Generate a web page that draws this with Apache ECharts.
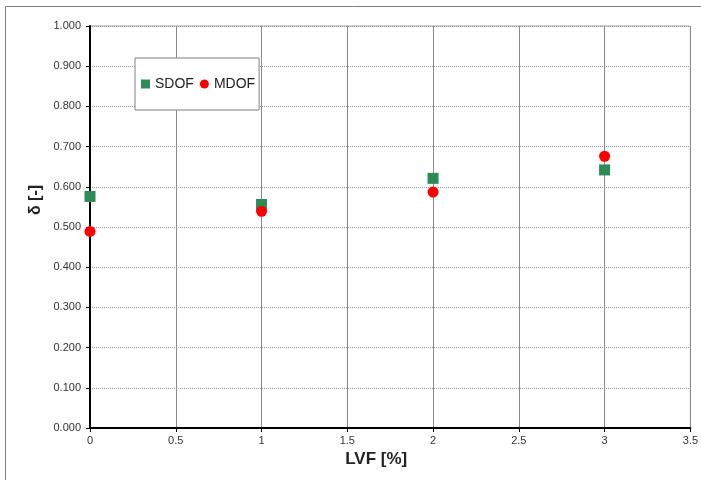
<!DOCTYPE html>
<html>
<head>
<meta charset="utf-8">
<script src="https://cdn.jsdelivr.net/npm/echarts@6/dist/echarts.min.js"></script>
<style>
html,body{margin:0;padding:0;background:#fff;}
#chart{width:701px;height:480px;}
</style>
</head>
<body>
<div id="chart"></div>
<script>
const lvf = [0, 1, 2, 3];
const sdof = [0.576, 0.556, 0.621, 0.642];
const mdof = [0.489, 0.539, 0.587, 0.676];
const seriesNames = ['SDOF', 'MDOF'];

const chart = echarts.init(document.getElementById('chart'));
const font = 'Liberation Sans, Arial, sans-serif';
chart.setOption({
  animation: false,
  backgroundColor: '#fff',
  textStyle: { fontFamily: font },
  graphic: [
    { type: 'rect', shape: { x: 5.5, y: 6.5, width: 800, height: 600 }, style: { fill: 'none', stroke: '#808080', lineWidth: 1 }, z: -10, silent: true },
    { type: 'text', x: 36, y: 200, rotation: Math.PI / 2,
      style: { text: 'δ [-]', font: 'bold 16px ' + font, fill: '#222', textAlign: 'center', textVerticalAlign: 'middle' } }
  ],
  grid: { left: 90, right: 9, top: 26, bottom: 52, show: true, borderColor: '#a0a0a0', borderWidth: 1, backgroundColor: 'transparent' },
  legend: {
    left: 135, top: 58,
    padding: [19, 4, 19, 6],
    itemGap: 6, itemWidth: 9, itemHeight: 9,
    borderColor: '#808080', borderWidth: 1, backgroundColor: '#fff',
    textStyle: { fontSize: 14, color: '#222', fontFamily: font },
    data: seriesNames
  },
  xAxis: {
    type: 'value', min: 0, max: 3.5, interval: 0.5,
    name: 'LVF [%]', nameLocation: 'middle', nameGap: 20,
    nameTextStyle: { fontSize: 17, fontWeight: 'bold', color: '#222', padding: [0, 28, 0, 0] },
    axisLine: { show: true, onZero: false, lineStyle: { color: '#000', width: 2 } },
    axisTick: { show: true, length: 4, lineStyle: { color: '#000' } },
    axisLabel: { fontSize: 11, color: '#333', margin: 7, formatter: v => String(v) },
    splitLine: { show: true, lineStyle: { color: '#8a8a8a', width: 1, type: 'solid' } }
  },
  yAxis: {
    type: 'value', min: 0, max: 1, interval: 0.1,
    axisLine: { show: true, onZero: false, lineStyle: { color: '#000', width: 2 } },
    axisTick: { show: true, length: 4, lineStyle: { color: '#000' } },
    axisLabel: { fontSize: 11, color: '#333', margin: 9, formatter: v => v.toFixed(3) },
    splitLine: { show: true, lineStyle: { color: '#999', width: 1, type: 'dotted' } }
  },
  series: [
    { name: seriesNames[0], type: 'scatter', symbol: 'rect', symbolSize: 11,
      itemStyle: { color: '#2e8b57', opacity: 1 }, data: lvf.map((x, i) => [x, sdof[i]]), z: 3 },
    { name: seriesNames[1], type: 'scatter', symbol: 'circle', symbolSize: 11,
      itemStyle: { color: '#ff0000', opacity: 1 }, data: lvf.map((x, i) => [x, mdof[i]]), z: 4 }
  ]
});
</script>
</body>
</html>
